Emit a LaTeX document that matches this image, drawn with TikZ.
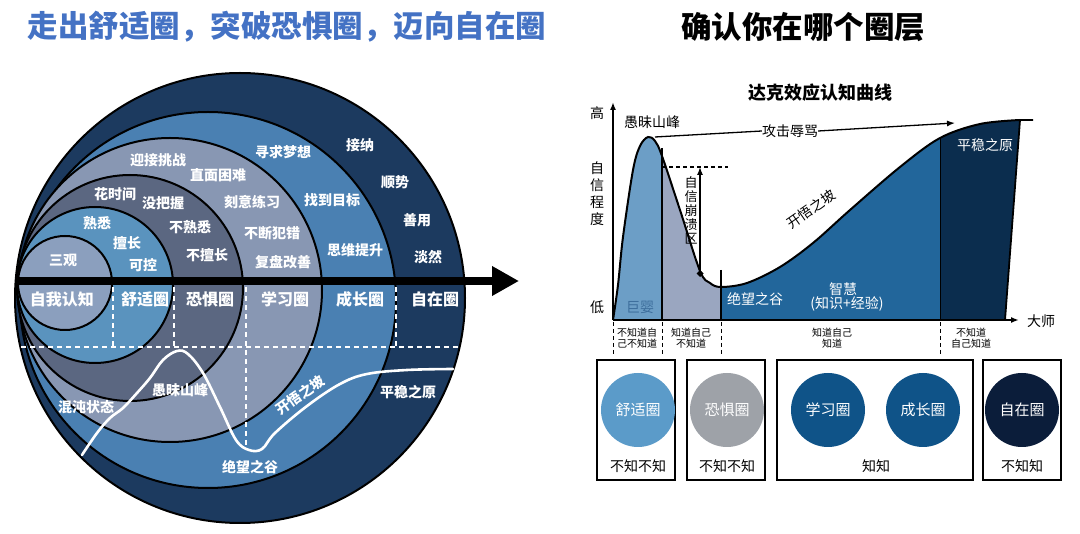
\documentclass[tikz,border=0pt]{standalone}
\usepackage{fontspec}
\setmainfont{Noto Sans CJK SC}
\usetikzlibrary{arrows.meta,positioning}

% ring colours (left) and chart colours (right)
\definecolor{zizai}{HTML}{1C3A5F}
\definecolor{chengzhang}{HTML}{4A80B2}
\definecolor{xuexi}{HTML}{8897B3}
\definecolor{kongju}{HTML}{5B6781}
\definecolor{shushi}{HTML}{5A93BE}
\definecolor{ziwo}{HTML}{8B9FBE}
\definecolor{titleblue}{HTML}{4472C4}
\definecolor{juying}{HTML}{6C9EC6}
\definecolor{bengkui}{HTML}{9AA6C0}
\definecolor{zhihui}{HTML}{22669B}
\definecolor{pingwen}{HTML}{0B2D4E}
\definecolor{juyingtxt}{HTML}{3D6E9C}
\definecolor{cshu}{HTML}{5B9BC9}
\definecolor{ckong}{HTML}{9EA2A8}
\definecolor{cxue}{HTML}{0F5388}
\definecolor{czai}{HTML}{0B1D3A}

\tikzset{
  titletxt/.style={font=\bfseries\fontsize{30.5}{32}\selectfont, inner sep=0pt},
  ringtxt/.style={text=white, font=\bfseries\fontsize{14}{16}\selectfont, inner sep=0pt},
  zonetxt/.style={text=white, font=\bfseries\fontsize{16}{18}\selectfont, inner sep=0pt},
  charttxt/.style={font=\fontsize{14}{17}\selectfont, inner sep=0pt},
  smalltxt/.style={font=\fontsize{10}{11}\selectfont, align=center, inner sep=0pt},
  ringline/.style={draw=black, line width=2pt},
  whitedash/.style={white, line width=1.3pt, dash pattern=on 5pt off 4pt},
  blackdash/.style={black, line width=0.9pt, dash pattern=on 4pt off 3pt},
  zonecircle/.style={circle, minimum size=74pt, inner sep=0pt, text=white,
    font=\fontsize{15}{17}\selectfont},
  boxline/.style={draw=black, line width=1.8pt}
}

\begin{document}
\begin{tikzpicture}[x=1pt,y=-1pt]
    \useasboundingbox (0,0) rectangle (1080,534);

    % Titles
    \node[titletxt, text=titleblue] (lefttitle) at (287,27) {走出舒适圈，突破恐惧圈，迈向自在圈};
    \node[titletxt] (righttitle) at (803,27) {确认你在哪个圈层};

    % Draw the nested circles, outermost first
    \draw[ringline, fill=zizai] (240,298) circle [radius=225pt];
    \draw[ringline, fill=chengzhang] (208,300) circle [radius=188pt];
    \draw[ringline, fill=xuexi] (170,290) circle [radius=152pt];
    \draw[ringline, fill=kongju] (130,288) circle [radius=113pt];
    \draw[ringline, fill=shushi] (95,285) circle [radius=78pt];
    \draw[ringline, fill=ziwo] (65,283) circle [radius=47pt];

    % White dashed grid below the arrow
    \draw[whitedash] (113,287) -- (113,347);
    \draw[whitedash] (174,287) -- (174,347);
    \draw[whitedash] (246,287) -- (246,448);
    \draw[whitedash] (396,287) -- (396,347);
    \draw[whitedash] (21,347) -- (459,347);

    % The big arrow through the circles
    \coordinate (arrowL) at (17,281);
    \coordinate (arrowR) at (519,281);
    \draw[line width=8pt, -{Triangle[length=27pt,width=28pt]}] (arrowL) -- (arrowR);

    % Zone names under the arrow
    \node[zonetxt] (zziwo) at (62,299) {自我认知};
    \node[zonetxt] (zshushi) at (145,299) {舒适圈};
    \node[zonetxt] (zkongju) at (210,299) {恐惧圈};
    \node[zonetxt] (zxuexi) at (285,299) {学习圈};
    \node[zonetxt] (zchengzhang) at (360,299) {成长圈};
    \node[zonetxt] (zzizai) at (435,299) {自在圈};

    % Words inside each ring
    \node[ringtxt] (sanguan) at (63,260) {三观};
    \node[ringtxt] (shuxi) at (97,223) {熟悉};
    \node[ringtxt] (shanchang) at (127,243) {擅长};
    \node[ringtxt] (kekong) at (143,265) {可控};
    \node[ringtxt] (huashijian) at (115,194) {花时间};
    \node[ringtxt] (meibawo) at (163,203) {没把握};
    \node[ringtxt] (bushuxi) at (190,227) {不熟悉};
    \node[ringtxt] (bushanchang) at (207,255) {不擅长};
    \node[ringtxt] (yingjie) at (158,160) {迎接挑战};
    \node[ringtxt] (zhimian) at (218,175) {直面困难};
    \node[ringtxt] (keyi) at (252,202) {刻意练习};
    \node[ringtxt] (buduan) at (272,233) {不断犯错};
    \node[ringtxt] (fupan) at (283,262) {复盘改善};
    \node[ringtxt] (xunqiu) at (283,152) {寻求梦想};
    \node[ringtxt] (zhaodao) at (332,200) {找到目标};
    \node[ringtxt] (siwei) at (355,250) {思维提升};
    \node[ringtxt] (jiena) at (360,145) {接纳};
    \node[ringtxt] (shunshi) at (395,182) {顺势};
    \node[ringtxt] (shanyong) at (417,220) {善用};
    \node[ringtxt] (danran) at (428,257) {淡然};

    % White curve across the lower half
    \draw[white, line width=2.6pt, line cap=round] plot[smooth, tension=0.6] coordinates {
      (82,455) (97,433) (110,418) (123,408) (137,393) (150,378) (163,360)
      (177,351) (188,354) (203,373) (220,407) (236,440) (249,450) (262,449)
      (275,433) (307,406) (340,384) (367,374) (407,370) (453,369)};
    \node[ringtxt] (hundun) at (86,407) {混沌状态};
    \node[ringtxt] (yumei) at (180,390) {愚昧山峰};
    \node[ringtxt] (juewang) at (250,467) {绝望之谷};
    \node[ringtxt, rotate=35] (kaiwu) at (300,395) {开悟之坡};
    \node[ringtxt] (pingwenL) at (408,392) {平稳之原};

    % Chart title and axes
    \node[font=\bfseries\fontsize{18}{20}\selectfont, inner sep=0pt] (charttitle) at (820,93) {达克效应认知曲线};
    \coordinate (origin) at (613,320);
    \coordinate (ytop) at (613,102);
    \coordinate (xend) at (1019,320);

    % Coloured bands under the curve
    \foreach \xa/\xb/\col in {613/662/juying, 662/721/bengkui, 721/940/zhihui, 940/1040/pingwen}{
      \begin{scope}
        \clip (\xa,100) rectangle (\xb,320);
        \fill[\col] (613,320) -- plot[smooth, tension=0.55] coordinates {
          (613,320) (618,285) (623,237) (633,170) (640,146) (648,137) (655,141)
          (662,156) (680,210) (700,271) (710,283) (721,287) (747,283) (780,267)
          (813,243) (850,210) (900,167) (940,138) (980,124) (1020,120)}
          -- (1005,320) -- cycle;
      \end{scope}
    }
    \draw[black, line width=2pt] plot[smooth, tension=0.55] coordinates {
      (613,320) (618,285) (623,237) (633,170) (640,146) (648,137) (655,141)
      (662,156) (680,210) (700,271) (710,283) (721,287) (747,283) (780,267)
      (813,243) (850,210) (900,167) (940,138) (980,124) (1020,120)};
    \draw[black, line width=1.8pt] (1033,120) -- (1020,120) -- (1005,320);
    \draw[black, line width=1.5pt] (662,148) -- (662,320);
    \draw[black, line width=1.5pt] (721,270) -- (721,320);
    \draw[black, line width=0.8pt] (940,138) -- (940,320);

    \draw[line width=1.6pt, -{Latex[length=8pt,width=6pt]}] (origin) -- (ytop);
    \draw[line width=1.6pt, -{Latex[length=8pt,width=6pt]}] (origin) -- (xend);

    % Axis labels
    \node[charttxt] (gao) at (597,113) {高};
    \node[charttxt] (di) at (597,307) {低};
    \node[charttxt, align=center] (zixin) at (597,194) {自\\信\\程\\度};
    \node[charttxt, anchor=west] (dashi) at (1027,321) {大师};

    % Confidence collapse marker
    \coordinate (dashL) at (662,167);
    \coordinate (dashR) at (728,167);
    \coordinate (droptop) at (700,167);
    \coordinate (dropbot) at (700,277);
    \draw[blackdash, line width=1.2pt] (dashL) -- (dashR);
    \draw[line width=1.3pt, {Diamond[length=7pt,width=7pt]}-{Latex[length=8pt,width=6pt]}] (dropbot) -- (droptop);
    \node[font=\fontsize{13}{14}\selectfont, align=center, inner sep=0pt] (bengkuitxt) at (691,210) {自\\信\\崩\\溃\\区};

    % Peak and attack labels
    \coordinate (peak) at (655,137);
    \coordinate (gongjiend) at (955,123);
    \node[charttxt] (yumeiR) at (652,122) {愚昧山峰};
    \node[charttxt] (gongji) at (790,131) {攻击辱骂};
    \draw[line width=1.3pt] (peak) -- (gongji.west);
    \draw[line width=1.3pt, -{Latex[length=8pt,width=6pt]}] (gongji.east) -- (gongjiend);

    % Labels inside the bands
    \node[charttxt, text=juyingtxt] (juying) at (640,307) {巨婴};
    \node[charttxt, text=white] (juewangR) at (755,299) {绝望之谷};
    \node[charttxt, text=white] (zhihuitxt) at (843,289) {智慧};
    \node[charttxt, text=white] (zhishi) at (847,304) {(知识+经验)};
    \node[charttxt, text=white] (pingwenR) at (985,145) {平稳之原};
    \node[charttxt, rotate=35] (kaiwuR) at (811,209) {开悟之坡};

    % Dashed stage dividers and captions
    \foreach \xx in {613,662,721,940}{
      \draw[blackdash] (\xx,322) -- (\xx,355);
    }
    \node[smalltxt] (stage1) at (637,338) {不知道自\\己不知道};
    \node[smalltxt] (stage2) at (691,338) {知道自己\\不知道};
    \node[smalltxt] (stage3) at (832,338) {知道自己\\知道};
    \node[smalltxt] (stage4) at (971,338) {不知道\\自己知道};

    % Boxes with circles
    \draw[boxline] (597,360) rectangle (675,480);
    \draw[boxline] (687,360) rectangle (765,480);
    \draw[boxline] (777,360) rectangle (973,480);
    \draw[boxline] (983,360) rectangle (1061,480);
    \node[zonecircle, fill=cshu] (cshushi) at (638,410) {舒适圈};
    \node[zonecircle, fill=ckong] (ckongju) at (727,410) {恐惧圈};
    \node[zonecircle, fill=cxue] (cxuexi) at (828,410) {学习圈};
    \node[zonecircle, fill=cxue] (cchengzhang) at (923,410) {成长圈};
    \node[zonecircle, fill=czai] (czizai) at (1022,410) {自在圈};
    \node[charttxt] (k1) at (638,466) {不知不知};
    \node[charttxt] (k2) at (727,466) {不知不知};
    \node[charttxt] (k3) at (876,466) {知知};
    \node[charttxt] (k4) at (1022,466) {不知知};

\end{tikzpicture}
\end{document}
